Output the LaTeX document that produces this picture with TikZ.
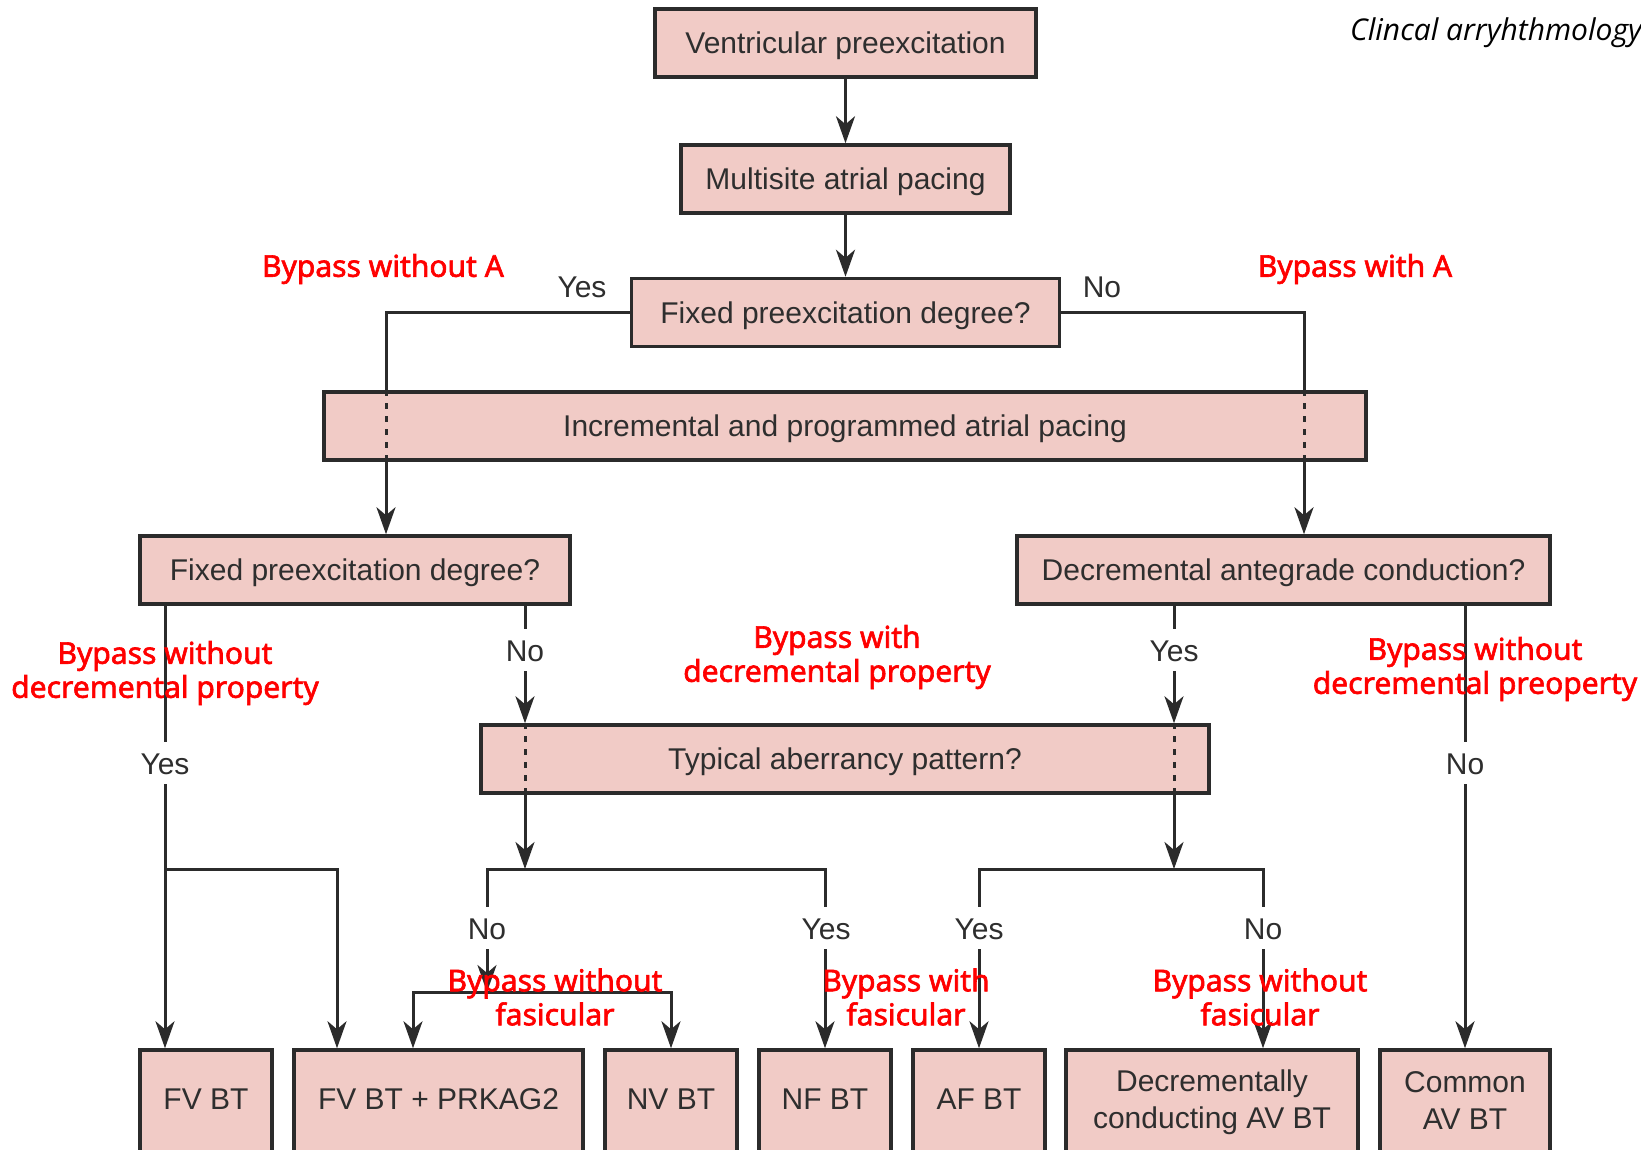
\documentclass[tikz,border=0pt]{standalone}
\usepackage{fontspec}
\setmainfont{Liberation Sans}
\newfontfamily\notefamily[FakeBold=2]{Noto Sans}
\newfontfamily\headfamily{Open Sans}
\usetikzlibrary{arrows.meta,calc}
\definecolor{boxfill}{HTML}{F1CBC6}
\definecolor{boxline}{HTML}{2B2B2B}
\definecolor{textgray}{HTML}{2E2E2E}
\definecolor{notered}{HTML}{FF0000}

\begin{document}
\begin{tikzpicture}[x=1pt, y=-1pt,
    box/.style={draw=boxline, fill=boxfill, line width=3.5pt, inner sep=0pt, text=textgray,
      font=\fontsize{30}{37}\selectfont, align=center, minimum height=68pt, text depth=0pt},
    leaf/.style={box, minimum height=104pt, text depth=6pt},
    link/.style={draw=boxline, line width=3pt},
    flow/.style={link, -{Stealth[length=27pt, width=19pt, inset=8pt]}},
    thru/.style={link, dash pattern=on 6pt off 7pt},
    ans/.style={fill=white, text=textgray, font=\fontsize{30}{37}\selectfont,
      inner xsep=3pt, inner ysep=10pt, text height=22pt, text depth=0pt},
    note/.style={text=notered, font=\notefamily\fontsize{30}{34}\selectfont, align=center}]

    \useasboundingbox (0,0) rectangle (1641,1150);
    \fill[white] (0,0) rectangle (1641,1150);

    % Top of the chart
    \node[box, minimum width=381pt] (vp) at (845.5,43) {Ventricular preexcitation};
    \node[box, minimum width=329pt] (msap) at (845.5,179) {Multisite atrial pacing};
    \node[box, minimum width=428pt] (fpd1) at (845.5,312.5) {Fixed preexcitation degree?};
    \node[box, minimum width=1042pt] (iap) at (845,426) {Incremental and programmed atrial pacing};

    % Second level questions
    \node[box, minimum width=430pt] (fpd2) at (355,570) {Fixed preexcitation degree?};
    \node[box, minimum width=533pt] (dac) at (1283.5,570) {Decremental antegrade conduction?};
    \node[box, minimum width=728pt] (tap) at (845,759) {Typical aberrancy pattern?};

    % Leaves (cut by the bottom edge)
    \node[leaf, minimum width=132pt] (fvbt) at (206,1102) {FV BT};
    \node[leaf, minimum width=289pt] (fvprk) at (438.5,1102) {FV BT + PRKAG2};
    \node[leaf, minimum width=132pt] (nvbt) at (671,1102) {NV BT};
    \node[leaf, minimum width=132pt] (nfbt) at (825,1102) {NF BT};
    \node[leaf, minimum width=132pt] (afbt) at (979,1102) {AF BT};
    \node[leaf, minimum width=292pt] (dcav) at (1212,1102) {Decrementally\\conducting AV BT};
    \node[leaf, minimum width=170pt, text depth=3pt] (cav) at (1465,1102) {Common\\AV BT};

    % Branch points
    \coordinate (cl) at (386,312.5);
    \coordinate (cr) at (1304,312.5);
    \coordinate (yl) at (165,869);
    \coordinate (yl2) at (337,869);
    \coordinate (nl) at (525,869);
    \coordinate (sb) at (487,992);
    \coordinate (sb1) at (413,992);
    \coordinate (nr) at (1174,869);
    \coordinate (rb) at (1263,869);

    % Straight down the middle
    \draw[flow] (vp.south) -- (msap.north);
    \draw[flow] (msap.south) -- (fpd1.north);

    % Yes / No of the first question, through the pacing box
    \draw[link] (fpd1.west) -- (cl) -- (cl |- iap.north);
    \draw[thru] (cl |- iap.north) -- (cl |- iap.south);
    \draw[flow] (cl |- iap.south) -- (cl |- fpd2.north);
    \draw[link] (fpd1.east) -- (cr) -- (cr |- iap.north);
    \draw[thru] (cr |- iap.north) -- (cr |- iap.south);
    \draw[flow] (cr |- iap.south) -- (cr |- dac.north);

    % Left question
    \draw[flow] (yl |- fpd2.south) -- (yl |- fvbt.north);
    \draw[flow] (yl) -| (yl2 |- fvprk.north);
    \draw[flow] (nl |- fpd2.south) -- (nl |- tap.north);
    \draw[thru] (nl |- tap.north) -- (nl |- tap.south);
    \draw[flow] (nl |- tap.south) -- (nl);
    \draw[flow] (nl) -| (sb);
    \draw[flow] (nl) -| (nfbt.north);
    \draw[flow] (sb) -| (sb1 |- fvprk.north);
    \draw[flow] (sb) -| (nvbt.north);

    % Right question
    \draw[flow] (nr |- dac.south) -- (nr |- tap.north);
    \draw[thru] (nr |- tap.north) -- (nr |- tap.south);
    \draw[flow] (nr |- tap.south) -- (nr);
    \draw[flow] (nr) -| (afbt.north);
    \draw[flow] (nr) -| (rb |- dcav.north);
    \draw[flow] (cav.north |- dac.south) -- (cav.north);

    % Answers
    \node[ans, fill=none] (a1) at (582,287) {Yes};
    \node[ans, fill=none] (a2) at (1102,287) {No};
    \node[ans] (a3) at (165,763) {Yes};
    \node[ans] (a4) at (525,650) {No};
    \node[ans] (a5) at (1174,650) {Yes};
    \node[ans] (a6) at (1465,763) {No};
    \node[ans] (a7) at (487,928) {No};
    \node[ans] (a8) at (826,928) {Yes};
    \node[ans] (a9) at (979,928) {Yes};
    \node[ans] (a10) at (1263,928) {No};

    % Red notes
    \node[note] (n1) at (383,269) {Bypass without A};
    \node[note] (n2) at (1355,269) {Bypass with A};
    \node[note] (n3) at (165,673) {Bypass without\\decremental property};
    \node[note] (n4) at (837,657) {Bypass with\\decremental property};
    \node[note] (n5) at (1475,669) {Bypass without\\decremental preoperty};
    \node[note] (n6) at (555,997) {Bypass without\\fasicular};
    \node[note] (n7) at (906,997) {Bypass with\\fasicular};
    \node[note] (n8) at (1260,997) {Bypass without\\fasicular};

    % Title in the corner
    \node[font=\headfamily\itshape\fontsize{30}{36}\selectfont, anchor=base west, inner sep=0pt] (ttl) at (1350,41) {Clincal arryhthmology};
\end{tikzpicture}
\end{document}
